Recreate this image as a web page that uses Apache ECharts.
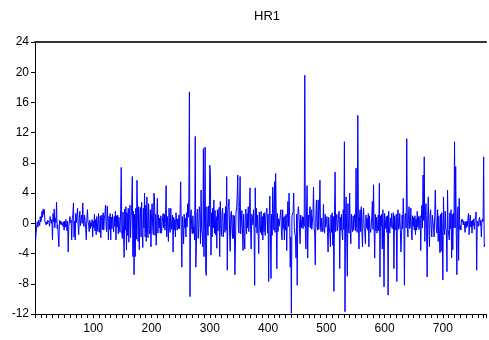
<!DOCTYPE html>
<html>
<head>
<meta charset="utf-8">
<script src="https://cdn.jsdelivr.net/npm/echarts@6/dist/echarts.min.js"></script>
<style>
  html, body { margin: 0; padding: 0; background: #ffffff; }
  #chart { width: 489px; height: 340px; }
</style>
</head>
<body>
<div id="chart"></div>
<script>
// Series name and axis ticks
const seriesName = 'HR1';
const yTickValues = [-12, -8, -4, 0, 4, 8, 12, 16, 20, 24];
const xTickValues = [100, 200, 300, 400, 500, 600, 700];

// HR1 observations 1..772
const hr1 = [
  -2.4, -1.2, -0.3, 0.2, -0.5, 0.4, 0.1, -0.3, 0.9, 0.2,
  0.6, 1.6, 0.8, 1.9, 1.2, 1.8, 0.3, 0.1, -0.2, 0.2,
  -0.1, 0.4, 0.4, 0.1, -0.4, 0.9, 0.3, 0.0, 0.5, -2.2,
  1.3, 0.2, 1.9, -0.6, 0.7, 0.1, 2.8, -0.7, -0.2, -1.8,
  -3.1, 0.4, -0.1, 0.3, -0.2, 0.2, -0.1, -0.4, 0.2, -0.9,
  0.3, -0.5, 0.5, -0.2, -1.0, 0.3, -3.8, -0.4, 0.2, 0.9,
  0.1, 0.4, -2.2, 0.6, 1.2, 2.7, -1.8, 0.3, -2.2, 1.3,
  0.1, 0.3, 2.0, -0.2, -1.5, 0.6, 1.6, -0.3, 0.4, 1.1,
  0.0, 2.7, 0.2, -0.4, 1.1, 0.3, -0.8, -2.2, 0.6, 1.8,
  0.2, -0.1, -1.1, 0.4, -0.7, 0.1, -0.4, 0.5, -1.8, 0.3,
  -0.6, 1.2, -1.0, 0.5, -1.5, 0.9, -0.2, -1.1, 1.3, -0.4,
  -1.2, 1.0, -1.9, 0.4, 1.1, -0.8, 1.4, -0.9, 0.6, 1.2,
  2.4, -0.5, -1.1, 2.3, 0.6, -2.2, 0.9, -0.8, 1.3, -2.2,
  0.8, -0.7, 1.2, -0.3, -1.1, 0.9, -0.4, 1.6, -2.2, 1.0,
  -0.5, 1.1, -1.4, 0.8, -0.6, -1.2, 1.8, 7.4, -1.4, -2.0,
  1.5, -1.5, -4.5, 1.9, -0.9, 2.2, -3.5, 1.4, -1.6, 2.0,
  -2.5, 1.2, 2.4, -1.9, 0.8, 2.5, 6.2, -4.4, 1.6, -6.8,
  1.2, -4.4, 2.0, -2.1, 5.7, 1.3, -2.4, 2.2, -3.5, 0.9,
  2.1, -1.8, 2.8, -1.3, -3.2, 2.0, -0.6, 4.0, -1.8, 2.4,
  -2.4, 3.5, -0.7, -1.9, 2.6, -0.8, -1.4, 1.8, -3.1, 1.2,
  2.6, -0.6, -1.5, 4.0, 3.5, -1.6, 1.2, -2.9, 0.6, 3.3,
  -1.3, 1.1, -0.6, 0.7, -1.3, 1.0, -1.3, -0.4, 0.8, 1.3,
  -0.6, 1.2, -0.9, 0.6, 5.0, -1.8, 0.9, -0.7, -2.4, 2.0,
  -0.6, -1.2, 2.0, -0.8, -0.9, 1.1, -3.8, 0.8, -0.9, 0.5,
  -1.8, 1.4, 1.6, -0.9, 0.6, -0.7, 1.1, -0.7, 1.5, 5.5,
  -1.0, -5.8, 0.9, -0.6, -2.7, 1.2, -0.6, 0.7, -1.8, 1.4,
  -0.5, 2.6, 0.8, 3.4, 17.4, -9.7, 1.2, 1.8, -0.8, -1.4,
  1.0, -1.3, -0.5, -2.2, 11.5, -5.8, -2.9, 1.4, 1.9, -2.0,
  -0.6, 2.2, 1.3, -2.7, 4.4, -0.9, -1.5, -3.1, 9.9, -4.4,
  1.6, 10.1, -6.3, -6.9, 2.2, -0.7, -1.6, 2.3, -0.4, 7.7,
  6.5, -4.2, 1.4, -1.8, 2.0, -0.6, 3.1, -1.3, 1.7, -1.5,
  0.9, -3.3, 1.8, -1.0, 1.2, 2.1, -4.4, 2.9, -0.6, -1.7,
  1.4, 2.0, -1.8, -0.7, 1.3, -1.2, 2.2, -0.9, 6.2, -6.2,
  1.5, 2.3, 3.2, -1.4, -3.7, 1.2, 1.6, -0.8, -2.0, 1.1,
  -2.0, 1.0, -6.8, -3.0, 1.5, 1.9, 3.6, 6.4, -0.5, -1.3,
  2.1, 6.2, -1.4, -1.6, 1.7, -0.7, -3.6, 1.2, -1.8, -3.4,
  1.3, 1.9, -1.4, 1.3, -0.6, 2.2, -1.1, 1.8, 4.7, -0.8,
  -3.4, 1.2, 0.9, -0.2, 1.8, -1.2, -8.2, 4.7, -0.5, 2.0,
  -1.3, 1.1, -1.4, -4.0, 1.5, -0.6, -1.2, 1.6, -1.5, 0.9,
  -2.2, 1.3, -1.1, 1.4, -1.6, 0.8, 1.6, 2.0, -1.3, 1.2,
  -7.7, 1.0, 3.6, -0.8, -7.3, 1.2, -1.6, 4.8, 1.3, -0.9,
  5.5, -1.2, 6.6, 1.1, -6.0, 1.3, -1.1, 0.6, -0.4, -0.5,
  1.1, 1.8, -1.4, -2.2, 1.8, -0.7, 0.8, -2.2, 1.0, -0.9,
  1.2, -3.6, 0.6, 2.9, -0.4, 4.0, 1.0, -5.8, -1.8, -11.9,
  1.0, 0.9, 1.5, 4.0, -0.6, -1.4, -1.8, -4.6, 1.2, -8.2,
  1.1, 2.2, 1.3, -0.7, -2.7, 1.1, 1.3, -0.6, 0.9, -0.7,
  0.8, -0.4, 19.6, -1.3, -3.4, 1.5, 5.0, -4.6, 1.1, -0.5,
  1.3, 2.2, -0.6, 1.8, -0.8, -0.9, 1.2, 4.8, -0.6, -1.4,
  -5.5, 1.0, 3.1, -0.4, -0.9, 3.1, -0.8, 1.6, 5.7, -0.5,
  -1.1, 0.7, -0.4, -1.1, 2.5, -0.6, -1.3, 1.2, -0.5, -0.7,
  0.9, -1.2, -3.8, 0.8, -0.6, -1.3, -3.1, 1.1, -1.2, 1.4,
  -2.9, 0.9, -9.0, 1.0, 6.8, -1.1, 0.6, 1.2, -1.0, -0.2,
  1.2, 1.6, -6.0, 0.8, -0.9, 1.2, -1.3, -2.2, 1.8, -0.8,
  10.8, -11.7, 1.3, 3.5, -2.0, -7.0, 2.6, -0.7, -1.3, 4.0,
  -0.8, -2.7, 1.2, -0.6, -1.1, 1.0, -0.9, 0.6, 1.2, -1.0,
  7.3, -0.6, -1.2, 14.3, 1.2, -3.4, 0.9, 1.8, -1.1, 2.2,
  -0.8, -3.1, 1.2, 2.0, -0.7, -1.0, -2.7, 1.1, -0.6, 0.7,
  -0.9, 1.3, -3.1, 1.0, -0.7, -1.2, -0.4, 1.0, 2.9, -0.8,
  5.1, -0.6, -4.6, 1.2, -1.0, 0.8, -1.3, -0.2, 1.1, -1.0,
  5.3, -7.1, 1.0, -0.4, 1.2, -3.4, 1.8, -0.9, -8.4, 1.3,
  1.3, -0.7, 0.9, -1.2, 1.0, -9.5, 1.6, -0.8, -1.3, 0.7,
  -0.5, 1.3, -0.7, -0.4, 1.4, -6.0, 1.0, -0.9, -0.4, 1.2,
  -7.7, 0.9, 1.8, -0.8, -0.5, 1.3, -0.8, -3.8, -1.8, 1.1,
  -0.7, 3.3, 0.5, -8.2, 1.0, 1.3, -0.6, 11.2, -0.6, -1.8,
  1.2, 2.2, -0.7, -0.4, 2.0, -0.8, -2.2, 1.0, -0.4, 0.8,
  -0.9, 1.0, -1.5, 0.6, -0.9, 1.6, -0.5, 0.9, -0.8, 0.4,
  1.0, -3.6, 0.5, 2.4, -0.6, 6.4, 0.4, 8.8, -2.4, 1.0,
  2.6, -0.8, -7.1, 1.0, 3.5, -0.7, -3.1, 1.2, 1.8, -0.6,
  -1.8, 1.1, 1.3, -0.7, -1.8, 1.0, 4.4, 0.9, -1.0, -1.3,
  1.8, -2.4, 1.0, 1.1, -3.9, 1.2, -3.7, 1.4, -0.8, -7.5,
  3.5, -0.6, -1.5, 1.6, -0.7, -1.0, -6.4, 4.4, -0.8, -0.6,
  -2.2, 1.4, -0.7, 1.8, -4.6, 1.2, -3.5, 1.3, -0.6, 10.8,
  -0.6, 7.5, -1.2, -6.8, 1.3, 2.2, -4.9, 3.3, -0.8, -0.3,
  -0.9, 0.5, 0.2, 0.5, -0.2, 0.3, 0.0, -1.2, 0.2, -0.6,
  0.3, -0.4, 0.6, 1.3, -1.5, 0.2, 1.1, -0.5, 0.3, -1.3,
  0.4, -0.3, 0.6, -0.8, 0.2, 0.4, 1.5, -6.2, 0.3, 0.2,
  -0.4, 0.5, 0.8, -0.3, 0.4, -1.8, 0.3, 0.6, 0.2, 8.8,
  -3.1, -2.8
];

const xMin = 0;
const xMax = 774;
const font = '"Liberation Sans", Arial, sans-serif';

const chart = echarts.init(document.getElementById('chart'), null, { renderer: 'canvas' });

chart.setOption({
  animation: false,
  backgroundColor: '#ffffff',
  title: {
    text: seriesName,
    left: 262,
    textAlign: 'center',
    top: 5,
    textStyle: { fontFamily: font, fontSize: 13, fontWeight: 'normal', color: '#000000' }
  },
  grid: { left: 35, right: 0, top: 42, bottom: 26, containLabel: false },
  xAxis: [
    {
      type: 'value',
      min: xMin,
      max: xMax,
      interval: 100,
      position: 'bottom',
      axisLine: { show: true, onZero: false, lineStyle: { color: '#000000', width: 1 } },
      axisTick: { show: true, inside: false, length: 4, lineStyle: { color: '#000000' } },
      minorTick: { show: true, splitNumber: 10, length: 4, lineStyle: { color: '#000000' } },
      axisLabel: {
        fontFamily: font, fontSize: 12, color: '#000000', margin: 9,
        formatter: function (v) { return xTickValues.indexOf(v) >= 0 ? String(v) : ''; }
      },
      splitLine: { show: false }
    },
    {
      type: 'value',
      min: xMin,
      max: xMax,
      position: 'top',
      axisLine: { show: true, onZero: false, lineStyle: { color: '#333333', width: 2 } },
      axisTick: { show: false },
      axisLabel: { show: false },
      splitLine: { show: false }
    }
  ],
  yAxis: {
    type: 'value',
    min: yTickValues[0],
    max: yTickValues[yTickValues.length - 1],
    interval: 4,
    axisLine: { show: true, onZero: false, lineStyle: { color: '#000000', width: 1 } },
    axisTick: { show: true, inside: false, length: 4, lineStyle: { color: '#000000' } },
    axisLabel: { fontFamily: font, fontSize: 12, color: '#000000', margin: 6 },
    splitLine: { show: false }
  },
  series: [{
    name: seriesName,
    type: 'line',
    xAxisIndex: 0,
    data: hr1.map(function (v, k) { return [k + 1, v]; }),
    showSymbol: false,
    symbol: 'none',
    lineStyle: { color: '#0000ff', width: 1 },
    itemStyle: { color: '#0000ff' },
    emphasis: { disabled: true }
  }]
});
</script>
</body>
</html>
